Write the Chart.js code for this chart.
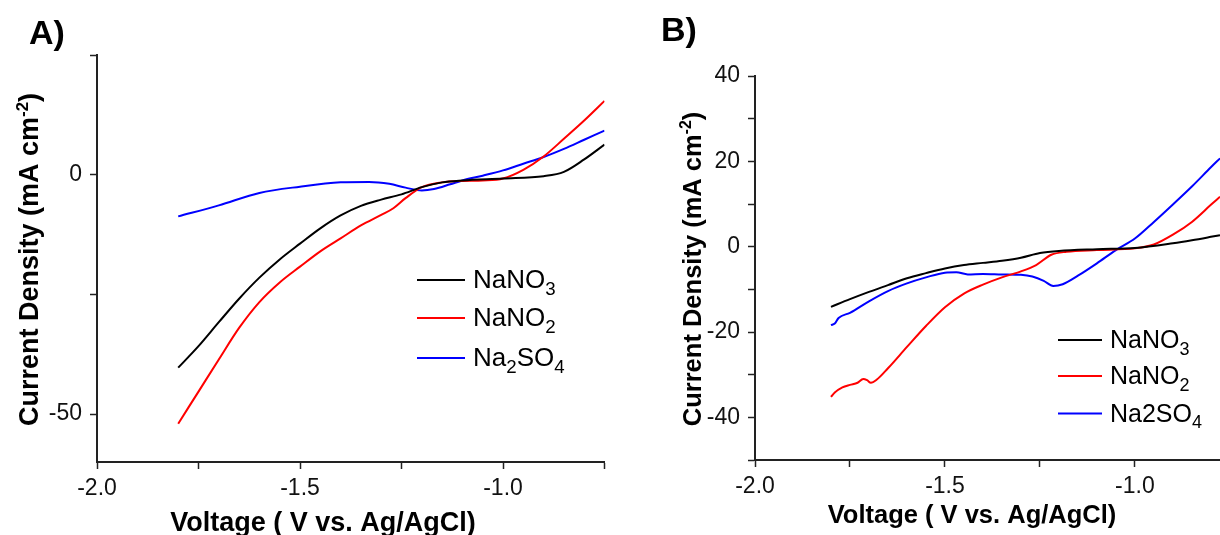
<!DOCTYPE html>
<html><head><meta charset="utf-8">
<script src="https://cdn.jsdelivr.net/npm/chart.js@4.4.1/dist/chart.umd.min.js"></script>
<style>
html,body{margin:0;padding:0;background:#fff;overflow:hidden;width:1220px;height:535px}
#ca{position:absolute;left:0;top:0}
#cb{position:absolute;left:620px;top:0}
</style></head><body>
<canvas id="ca" width="620" height="535"></canvas>
<canvas id="cb" width="600" height="535"></canvas>
<script>
// ---------- text ----------
const panelA = 'A)';
const panelB = 'B)';
const xTitle = 'Voltage ( V vs. Ag/AgCl)';
const yTitle = 'Current Density (mA cm⁻²)';
const labelsA = ['NaNO₃', 'NaNO₂', 'Na₂SO₄'];
const labelsB = ['NaNO₃', 'NaNO₂', 'Na2SO₄'];
const seriesColors = ['#000000', '#ff0000', '#0000ff'];

// ---------- ticks ----------
const aXTicks = [-2.0, -1.75, -1.5, -1.25, -1.0, -0.75];
const aXLabels = [-2.0, -1.5, -1.0];
const aYTicks = [-50, -25, 0, 25];
const aYLabels = [-50, 0];
const bXTicks = [-2.0, -1.75, -1.5, -1.25, -1.0];
const bXLabels = [-2.0, -1.5, -1.0];
const bYTicks = [-50, -40, -30, -20, -10, 0, 10, 20, 30, 40];
const bYLabels = [-40, -20, 0, 20, 40];

// ---------- panel A data ----------
const aV_NO3 = [-1.8, -1.75, -1.7, -1.65, -1.6, -1.55, -1.5, -1.45, -1.4, -1.35, -1.3, -1.25, -1.2, -1.15, -1.1, -1.0, -0.9, -0.85, -0.8, -0.75];
const aI_NO3 = [-40.3, -35.8, -30.8, -25.9, -21.5, -17.7, -14.4, -11.2, -8.5, -6.5, -5.2, -4.1, -2.6, -1.6, -1.2, -0.8, -0.3, 0.6, 3.2, 6.3];
const aV_NO2 = [-1.8, -1.75, -1.7, -1.65, -1.6, -1.55, -1.5, -1.45, -1.4, -1.35, -1.3, -1.27, -1.24, -1.2, -1.15, -1.1, -1.05, -1.0, -0.95, -0.9, -0.85, -0.8, -0.75];
const aI_NO2 = [-52.0, -45.3, -38.6, -32.0, -26.6, -22.5, -19.2, -16.0, -13.3, -10.6, -8.4, -7.0, -4.9, -2.6, -1.6, -1.3, -1.2, -0.8, 1.0, 3.8, 7.5, 11.3, 15.4];
const aV_SO4 = [-1.8, -1.7, -1.6, -1.5, -1.4, -1.33, -1.28, -1.24, -1.2, -1.17, -1.13, -1.1, -1.05, -1.0, -0.95, -0.9, -0.85, -0.8, -0.75];
const aI_SO4 = [-8.7, -6.4, -3.8, -2.5, -1.6, -1.5, -1.9, -2.7, -3.3, -3.0, -2.0, -1.2, -0.2, 0.9, 2.3, 3.7, 5.4, 7.3, 9.2];

// ---------- panel B data ----------
const bV_NO3 = [-1.8, -1.75, -1.7, -1.65, -1.6, -1.55, -1.5, -1.45, -1.4, -1.35, -1.3, -1.25, -1.2, -1.1, -1.0, -0.9, -0.85, -0.8, -0.776];
const bI_NO3 = [-14.1, -12.3, -10.6, -9.0, -7.4, -6.2, -5.1, -4.3, -3.8, -3.3, -2.6, -1.5, -1.0, -0.6, -0.3, 0.8, 1.5, 2.3, 2.7];
const bV_NO2 = [-1.8, -1.79, -1.77, -1.75, -1.73, -1.715, -1.705, -1.695, -1.68, -1.65, -1.6, -1.55, -1.5, -1.45, -1.4, -1.35, -1.3, -1.26, -1.22, -1.18, -1.1, -1.0, -0.95, -0.9, -0.85, -0.8, -0.776];
const bI_NO2 = [-35.2, -34.2, -33.0, -32.4, -31.9, -31.0, -31.3, -31.9, -31.2, -28.5, -23.5, -18.6, -14.2, -11.0, -8.9, -7.2, -5.8, -4.3, -1.9, -1.2, -0.8, -0.4, 0.5, 2.8, 5.8, 9.8, 11.7];
const bV_SO4 = [-1.8, -1.79, -1.78, -1.75, -1.7, -1.65, -1.6, -1.55, -1.5, -1.47, -1.44, -1.4, -1.35, -1.3, -1.27, -1.24, -1.215, -1.19, -1.15, -1.1, -1.05, -1.0, -0.95, -0.9, -0.85, -0.8, -0.776];
const bI_SO4 = [-18.4, -18.0, -16.7, -15.5, -12.8, -10.4, -8.6, -7.2, -6.1, -6.0, -6.5, -6.4, -6.5, -6.6, -7.0, -8.0, -9.2, -8.8, -6.8, -3.9, -0.8, 1.9, 5.8, 9.9, 14.1, 18.6, 20.7];

// ---------- rich text helpers ----------
const FAM = "'Liberation Sans', Arial, sans-serif";
const SUP = {'⁻': '-', '²': '2', '³': '3'};
const SUB = {'₂': '2', '₃': '3', '₄': '4'};
function runs(str) {
  const out = [];
  for (const ch of str) {
    let t = 'n', c = ch;
    if (SUP[ch]) { t = 'sup'; c = SUP[ch]; }
    else if (SUB[ch]) { t = 'sub'; c = SUB[ch]; }
    const last = out[out.length - 1];
    if (last && last.t === t) last.s += c; else out.push({t, s: c});
  }
  return out;
}
function runFont(r, size, weight) {
  const s = r.t === 'sup' ? size * 0.62 : r.t === 'sub' ? size * 0.72 : size;
  return weight + ' ' + s + 'px ' + FAM;
}
function drawRich(ctx, str, x, y, size, weight, align) {
  const rs = runs(str);
  let total = 0;
  rs.forEach(r => { ctx.font = runFont(r, size, weight); r.w = ctx.measureText(r.s).width; total += r.w; });
  let cx = align === 'center' ? x - total / 2 : x;
  ctx.textAlign = 'left';
  ctx.textBaseline = 'alphabetic';
  rs.forEach(r => {
    ctx.font = runFont(r, size, weight);
    const dy = r.t === 'sup' ? -size * 0.38 : r.t === 'sub' ? size * 0.26 : 0;
    ctx.fillText(r.s, cx, y + dy);
    cx += r.w;
  });
}

const annotPlugin = {
  id: 'annot',
  afterDraw(chart, args, o) {
    const ctx = chart.ctx;
    ctx.save();
    ctx.fillStyle = '#000';
    drawRich(ctx, o.panel, o.panelX, o.panelY, 34, 'bold', 'left');
    drawRich(ctx, xTitle, o.xtX, o.xtY + 0.358 * o.tSize, o.tSize, 'bold', 'center');
    ctx.save();
    ctx.translate(o.ytX, o.ytY);
    ctx.rotate(-Math.PI / 2);
    drawRich(ctx, yTitle, 0, 0.358 * o.tSize, o.tSize, 'bold', 'center');
    ctx.restore();
    o.labels.forEach((lab, i) => {
      const y = o.legY[i];
      ctx.strokeStyle = seriesColors[i];
      ctx.lineWidth = 2;
      ctx.beginPath();
      ctx.moveTo(o.legX1, y);
      ctx.lineTo(o.legX2, y);
      ctx.stroke();
      ctx.fillStyle = '#000';
      drawRich(ctx, lab, o.legTX, y + 8, o.legSize, 'normal', 'left');
    });
    ctx.restore();
  }
};

function makeChart(id, c) {
  const sets = c.series.map((s, i) => ({
    label: c.labels[i],
    data: s[0].map((v, j) => ({x: v, y: s[1][j]})),
    showLine: true,
    borderColor: seriesColors[i],
    backgroundColor: seriesColors[i],
    borderWidth: 2,
    pointRadius: 0,
    cubicInterpolationMode: 'monotone',
    fill: false
  }));
  const axisCommon = {
    grid: {drawOnChartArea: false, drawTicks: true, tickLength: 7, tickColor: '#222', tickWidth: 1.5},
    border: {display: true, color: '#222', width: 2}
  };
  return new Chart(document.getElementById(id), {
    type: 'scatter',
    data: {datasets: sets},
    options: {
      responsive: false,
      animation: false,
      devicePixelRatio: 1,
      layout: {padding: c.pad},
      plugins: {legend: {display: false}, tooltip: {enabled: false}, annot: c.annot},
      scales: {
        x: Object.assign({
          type: 'linear', min: c.xMin, max: c.xMax,
          afterBuildTicks: s => { s.ticks = c.xTicks.map(v => ({value: v})); },
          afterFit: s => { s.height = c.xH; },
          ticks: {
            callback: v => c.xLabels.includes(v) ? v.toFixed(1) : '',
            font: {size: 23, family: FAM}, color: '#111', padding: 6,
            maxRotation: 0, autoSkip: false
          },
          title: {display: false}
        }, axisCommon),
        y: Object.assign({
          type: 'linear', min: c.yMin, max: c.yMax,
          afterBuildTicks: s => { s.ticks = c.yTicks.map(v => ({value: v})); },
          afterFit: s => { s.width = c.yW; },
          ticks: {
            callback: v => c.yLabels.includes(v) ? String(v) : '',
            font: {size: 23, family: FAM}, color: '#111', padding: 8,
            autoSkip: false
          },
          title: {display: false}
        }, axisCommon)
      }
    },
    plugins: [annotPlugin]
  });
}

makeChart('ca', {
  series: [[aV_NO3, aI_NO3], [aV_NO2, aI_NO2], [aV_SO4, aI_SO4]],
  labels: labelsA,
  xMin: -2.0, xMax: -0.75, yMin: -60, yMax: 25,
  xTicks: aXTicks, xLabels: aXLabels, yTicks: aYTicks, yLabels: aYLabels,
  pad: {left: 0, top: 55, right: 15.5, bottom: 0},
  xH: 73, yW: 97,
  annot: {
    panel: panelA, panelX: 29, panelY: 44,
    tSize: 27, xtX: 323, xtY: 521, ytX: 28.5, ytY: 259.5,
    labels: labelsA, legX1: 417, legX2: 465, legTX: 473, legY: [280, 318, 358], legSize: 26
  }
});

makeChart('cb', {
  series: [[bV_NO3, bI_NO3], [bV_NO2, bI_NO2], [bV_SO4, bI_SO4]],
  labels: labelsB,
  xMin: -2.0, xMax: -0.776, yMin: -50, yMax: 40,
  xTicks: bXTicks, xLabels: bXLabels, yTicks: bYTicks, yLabels: bYLabels,
  pad: {left: 0, top: 76, right: 0, bottom: 0},
  xH: 75, yW: 135,
  annot: {
    panel: panelB, panelX: 41, panelY: 41,
    tSize: 25.5, xtX: 352, xtY: 514, ytX: 72, ytY: 269,
    labels: labelsB, legX1: 438, legX2: 482, legTX: 490, legY: [340, 376, 413.5], legSize: 25
  }
});
</script>
</body></html>
